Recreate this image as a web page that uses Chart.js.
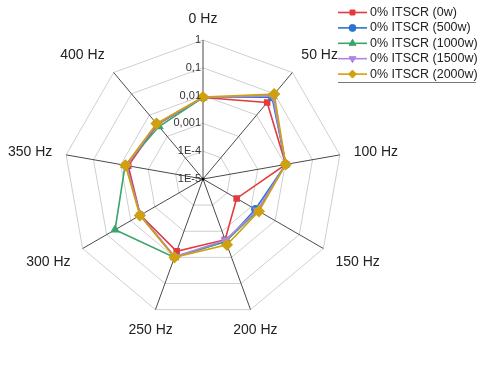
<!DOCTYPE html>
<html>
<head>
<meta charset="utf-8">
<script src="https://cdn.jsdelivr.net/npm/chart.js@4.4.1/dist/chart.umd.min.js"></script>
<style>
  html, body { margin: 0; padding: 0; background: #fff; }
  #wrap { width: 480px; height: 368px; }
</style>
</head>
<body>
<div id="wrap"><canvas id="c" width="480" height="368"></canvas></div>
<script>
// Radar com eixo radial logarítmico (1E-5 .. 1) — valores guardados em escala real
const frequencias = ["0 Hz", "50 Hz", "100 Hz", "150 Hz", "200 Hz", "250 Hz", "300 Hz", "350 Hz", "400 Hz"];
const serieNomes = ["0% ITSCR (0w)", "0% ITSCR (500w)", "0% ITSCR (1000w)", "0% ITSCR (1500w)", "0% ITSCR (2000w)"];
const w0    = [0.0085, 0.039, 0.0105, 0.00025, 0.0021, 0.0059, 0.0040, 0.0054, 0.0036];
const w500  = [0.0085, 0.072, 0.0105, 0.0015,  0.0025, 0.0095, 0.0040, 0.0064, 0.0038];
const w1000 = [0.0085, 0.080, 0.0105, 0.0019,  0.0024, 0.0100, 0.045,  0.0070, 0.0029];
const w1500 = [0.0085, 0.080, 0.0105, 0.0018,  0.0022, 0.0095, 0.0040, 0.0064, 0.0038];
const w2000 = [0.0088, 0.097, 0.0105, 0.0021,  0.0033, 0.0100, 0.0042, 0.0068, 0.0040];
const tickValores = [1, 0.1, 0.01, 0.001, 1e-4, 1e-5];
const tickTextos = ["1", "0,1", "0,01", "0,001", "1E-4", "1E-5"];

const cores = ["#e23b3f", "#2b73cf", "#3aa56b", "#b083e6", "#d1a00f"];
const estilos = ["rect", "circle", "triangle", "triangle", "rectRot"];
const rotacoes = [0, 0, 0, 180, 0];
const raios = [3.5, 3.5, 4, 4, 5];
const series = [w0, w500, w1000, w1500, w2000];

const FONTE = "'Liberation Sans', Arial, sans-serif";

const datasets = series.map((vals, i) => ({
  label: serieNomes[i],
  data: vals.map((v) => Math.log10(v)),
  borderColor: cores[i],
  backgroundColor: cores[i],
  pointBackgroundColor: cores[i],
  pointBorderColor: cores[i],
  pointStyle: estilos[i],
  rotation: rotacoes[i],
  pointRadius: raios[i],
  borderWidth: 1.6,
  fill: false,
  order: series.length - i, // 2000w por cima
}));

// rótulos do eixo radial (à esquerda do eixo vertical) + rótulos das frequências
const rotulos = {
  id: "rotulos",
  afterDatasetsDraw(chart) {
    const s = chart.scales.r, ctx = chart.ctx;
    ctx.save();
    ctx.font = "11px " + FONTE;
    ctx.fillStyle = "#333";
    ctx.textAlign = "right";
    ctx.textBaseline = "middle";
    tickValores.forEach((v, k) => {
      const p = s.getPointPositionForValue(0, Math.log10(v));
      ctx.fillText(tickTextos[k], p.x - 2, p.y);
    });
    ctx.fillStyle = "#000";
    ctx.beginPath();
    ctx.arc(s.xCenter, s.yCenter, 1.5, 0, Math.PI * 2);
    ctx.fill();

    ctx.font = "14px " + FONTE;
    ctx.fillStyle = "#222";
    ctx.textAlign = "center";
    frequencias.forEach((txt, i) => {
      const p = s.getPointPosition(i, s.drawingArea + 14);
      const dx = Math.cos(p.angle), dy = Math.sin(p.angle);
      const w = ctx.measureText(txt).width;
      let x = p.x, y = p.y;
      if (Math.abs(dx) > 0.5) x += Math.sign(dx) * w / 2;
      if (Math.abs(dy) > 0.3) y += Math.sign(dy) * 7;
      ctx.fillText(txt, x, y);
    });
    ctx.restore();
  },
};

// legenda no canto superior direito
const legenda = {
  id: "legenda",
  afterDraw(chart) {
    const ctx = chart.ctx;
    const x0 = 338, x1 = 367, xt = 370, y0 = 12.5, dy = 15.4;
    ctx.save();
    ctx.font = "12.5px " + FONTE;
    ctx.textBaseline = "middle";
    chart.data.datasets.forEach((d, i) => {
      const y = y0 + i * dy;
      ctx.strokeStyle = d.borderColor;
      ctx.fillStyle = d.borderColor;
      ctx.lineWidth = 1.6;
      ctx.beginPath(); ctx.moveTo(x0, y); ctx.lineTo(x1, y); ctx.stroke();
      ctx.lineWidth = 1;
      Chart.helpers.drawPoint(ctx, { pointStyle: d.pointStyle, rotation: d.rotation, radius: Math.min(d.pointRadius, 4), borderWidth: 1 }, (x0 + x1) / 2, y);
      ctx.fillStyle = "#222";
      ctx.fillText(d.label, xt, y);
    });
    ctx.strokeStyle = "#777";
    ctx.lineWidth = 1;
    ctx.beginPath(); ctx.moveTo(x0, 82.5); ctx.lineTo(476, 82.5); ctx.stroke();
    ctx.restore();
  },
};

new Chart(document.getElementById("c"), {
  type: "radar",
  data: { labels: frequencias, datasets },
  options: {
    responsive: false,
    animation: false,
    layout: { padding: { left: 64, right: 138, top: 40, bottom: 50 } },
    plugins: { legend: { display: false }, tooltip: { enabled: false } },
    elements: { line: { tension: 0 } },
    scales: {
      r: {
        min: -5, max: 0,
        ticks: { display: false, stepSize: 1 },
        grid: { color: "#cfcfcf", lineWidth: 1 },
        angleLines: { color: "#4a4a4a", lineWidth: 1 },
        pointLabels: { display: false },
      },
    },
  },
  plugins: [rotulos, legenda],
});
</script>
</body>
</html>
